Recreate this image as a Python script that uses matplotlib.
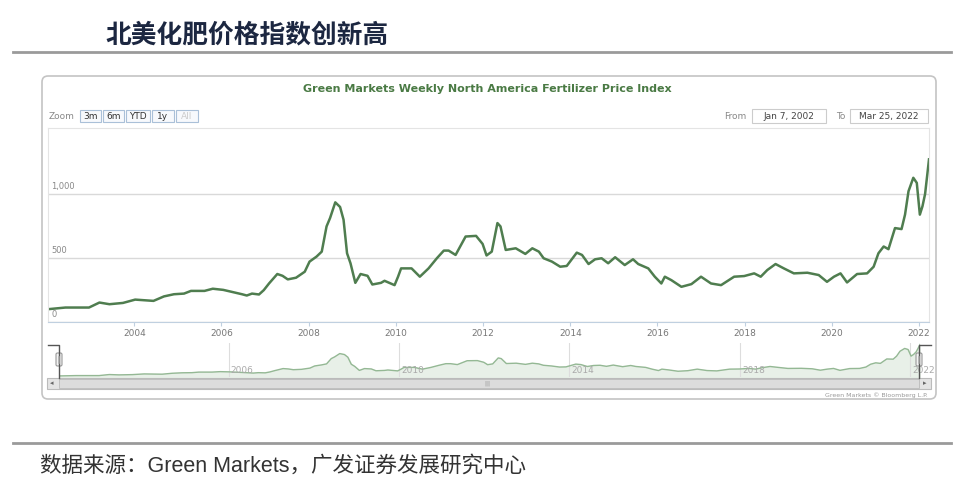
import matplotlib
matplotlib.use("Agg")
import matplotlib.pyplot as plt
from matplotlib.patches import FancyBboxPatch, Rectangle

# Weekly index (decimal year, index value)
years = [2002.02, 2002.42, 2002.96, 2003.2, 2003.43, 2003.74, 2004.02, 2004.44, 2004.68,
         2004.91, 2005.14, 2005.3, 2005.61, 2005.8, 2006.04, 2006.23, 2006.47, 2006.58,
         2006.7, 2006.86, 2006.97, 2007.09, 2007.28, 2007.4, 2007.52, 2007.71, 2007.91,
         2008.02, 2008.18, 2008.3, 2008.41, 2008.49, 2008.61, 2008.72, 2008.8, 2008.88,
         2008.96, 2009.07, 2009.19, 2009.35, 2009.46, 2009.66, 2009.74, 2009.97, 2010.05,
         2010.12, 2010.36, 2010.55, 2010.75, 2010.94, 2011.1, 2011.21, 2011.37, 2011.6,
         2011.84, 2011.99, 2012.08, 2012.2, 2012.33, 2012.4, 2012.52, 2012.75, 2012.97,
         2013.13, 2013.28, 2013.39, 2013.58, 2013.77, 2013.92, 2014.15, 2014.27, 2014.42,
         2014.57, 2014.72, 2014.87, 2015.03, 2015.25, 2015.44, 2015.56, 2015.79, 2015.94,
         2016.09, 2016.17, 2016.32, 2016.55, 2016.78, 2017.0, 2017.23, 2017.46, 2017.76,
         2017.99, 2018.22, 2018.37, 2018.52, 2018.71, 2018.9, 2019.13, 2019.44, 2019.7,
         2019.89, 2020.05, 2020.2, 2020.35, 2020.58, 2020.81, 2020.96, 2021.07, 2021.19,
         2021.3, 2021.45, 2021.6, 2021.68, 2021.76, 2021.87, 2021.95, 2022.02, 2022.08,
         2022.14, 2022.19, 2022.23]
values = [100, 113, 113, 152, 139, 149, 175, 165, 200,
          217, 222, 243, 243, 260, 251, 236, 217, 207,
          222, 215, 249, 301, 375, 361, 333, 346, 393,
          472, 511, 550, 747, 812, 935, 899, 799, 537,
          458, 306, 375, 361, 293, 306, 322, 288, 354,
          419, 419, 354, 419, 498, 558, 558, 524, 668,
          673, 610, 520, 550, 773, 747, 563, 576, 532,
          576, 550, 498, 472, 432, 438, 542, 524, 453,
          490, 498, 459, 506, 445, 490, 453, 419, 354,
          301, 354, 327, 275, 296, 354, 301, 288, 354,
          359, 380, 354, 406, 453, 419, 380, 385, 367,
          314, 354, 380, 309, 375, 380, 432, 537, 590,
          569, 734, 726, 839, 1022, 1127, 1087, 839, 904,
          1000, 1150, 1271]

main_ticks = [2004, 2006, 2008, 2010, 2012, 2014, 2016, 2018, 2020, 2022]
nav_ticks = [2006, 2010, 2014, 2018, 2022]
y_ticks = [0, 500, 1000]
y_labels = ["0", "500", "1,000"]
zoom_buttons = ["3m", "6m", "YTD", "1y", "All"]

W, H = 969, 490
line_green = "#4f7d4f"
cjk = ["Liberation Sans", "Noto Sans CJK SC"]

fig = plt.figure(figsize=(W / 100, H / 100), dpi=100)


def box(x0, y0, x1, y1):
    return [x0 / W, 1 - y1 / H, (x1 - x0) / W, (y1 - y0) / H]


def pixel_layer(z):
    a = fig.add_axes([0, 0, 1, 1], zorder=z)
    a.set_xlim(0, W)
    a.set_ylim(H, 0)
    a.axis("off")
    a.patch.set_alpha(0)
    return a


# background layer in pixel coords
bg = pixel_layer(0)

bg.text(105, 35, "北美化肥价格指数创新高", fontsize=18.5, fontweight="bold",
        color="#1c2741", va="center", ha="left", family=cjk)
bg.plot([13, 951], [52, 52], color="#9a9a9a", lw=2)
bg.plot([13, 951], [443, 443], color="#9a9a9a", lw=2)
bg.text(40, 466, "数据来源：Green Markets，广发证券发展研究中心", fontsize=15.5,
        color="#333333", va="center", ha="left", family=cjk)

# chart frame
bg.add_patch(FancyBboxPatch((42, 76), 894, 323, boxstyle="round,pad=0,rounding_size=6",
                            fc="white", ec="#c4c4c4", lw=1.2))
bg.text(487, 89, "Green Markets Weekly North America Fertilizer Price Index",
        fontsize=8, fontweight="bold", color="#4a7a44", ha="center", va="center")

# range selector
bg.text(49, 116, "Zoom", fontsize=6.5, color="#888888", va="center")
bx = [80, 103, 126, 152, 176]
bw = [21, 21, 24, 22, 22]
for lab, x0, w in zip(zoom_buttons, bx, bw):
    bg.add_patch(Rectangle((x0, 110), w, 12, fc="#f7f9fc", ec="#aac0d8", lw=0.8))
    bg.text(x0 + w / 2, 116, lab, fontsize=6.5, ha="center", va="center",
            color="#cccccc" if lab == "All" else "#333333")
bg.text(724, 116, "From", fontsize=6.5, color="#888888", va="center")
bg.add_patch(Rectangle((752, 109), 74, 14, fc="white", ec="#cccccc", lw=0.8))
bg.text(789, 116, "Jan 7, 2002", fontsize=6.5, ha="center", va="center", color="#444444")
bg.text(836, 116, "To", fontsize=6.5, color="#888888", va="center")
bg.add_patch(Rectangle((850, 109), 78, 14, fc="white", ec="#cccccc", lw=0.8))
bg.text(889, 116, "Mar 25, 2022", fontsize=6.5, ha="center", va="center", color="#444444")

# main plot
ax = fig.add_axes(box(48, 128, 929, 322), zorder=2)
ax.plot(years, values, color=line_green, lw=1.8)
ax.set_xlim(2002.02, 2022.23)
ax.set_ylim(0, 1516)
ax.set_yticks(y_ticks)
ax.set_yticklabels([])
ax.tick_params(axis="y", length=0)
ax.grid(axis="y", color="#d9d9d9", lw=1)
ax.set_xticks(main_ticks)
ax.set_xticklabels([str(t) for t in main_ticks], fontsize=6.5, color="#777777")
ax.tick_params(axis="x", length=3, color="#c0d0e0", pad=2)
for s in ["top", "left", "right"]:
    ax.spines[s].set_color("#e4e4e4")
ax.spines["bottom"].set_color("#c0d0e0")
for v, lab in zip(y_ticks, y_labels):
    ax.text(2002.1, v + 25, lab, fontsize=6, color="#888888", va="bottom", ha="left")

# navigator
nav = fig.add_axes(box(59, 343, 920, 377), zorder=2)
nav.fill_between(years, values, 0, color="#e8f0e8")
nav.plot(years, values, color="#94b894", lw=1)
nav.set_xlim(2002.02, 2022.23)
nav.set_ylim(60, 1330)
nav.set_xticks(nav_ticks)
nav.set_xticklabels([])
nav.set_yticks([])
nav.tick_params(length=0)
nav.grid(axis="x", color="#dddddd", lw=0.8)
for s in nav.spines.values():
    s.set_visible(False)
for t in nav_ticks:
    nav.text(t + 0.05, 120, str(t), fontsize=6.5, color="#aaaaaa", va="bottom", ha="left")

# navigator handles, outline and scrollbar on top
top = pixel_layer(3)
top.plot([48, 59, 59], [345, 345, 378], color="#555555", lw=1)
top.plot([931, 919, 919], [345, 345, 378], color="#555555", lw=1)
for hx in [56, 916]:
    top.add_patch(FancyBboxPatch((hx, 353), 6, 13, boxstyle="round,pad=0,rounding_size=1.5",
                                 fc="#f2f2f2", ec="#999999", lw=0.8))
    top.plot([hx + 2.5, hx + 2.5], [356, 363], color="#aaaaaa", lw=0.5)
    top.plot([hx + 3.5, hx + 3.5], [356, 363], color="#aaaaaa", lw=0.5)

top.add_patch(Rectangle((47, 378), 884, 11, fc="#e4e4e4", ec="#bbbbbb", lw=0.8))
top.add_patch(Rectangle((59, 379), 860, 9, fc="#dcdcdc", ec="#bbbbbb", lw=0.6))
top.text(52, 383.5, "◂", fontsize=5, color="#666666", ha="center", va="center")
top.text(925, 383.5, "▸", fontsize=5, color="#666666", ha="center", va="center")
top.text(487, 383.5, "|||", fontsize=4, color="#888888", ha="center", va="center")
top.text(928, 395, "Green Markets © Bloomberg L.P.", fontsize=4.5, color="#999999",
         ha="right", va="center")

fig.savefig("out.png", dpi=100, facecolor="white")
